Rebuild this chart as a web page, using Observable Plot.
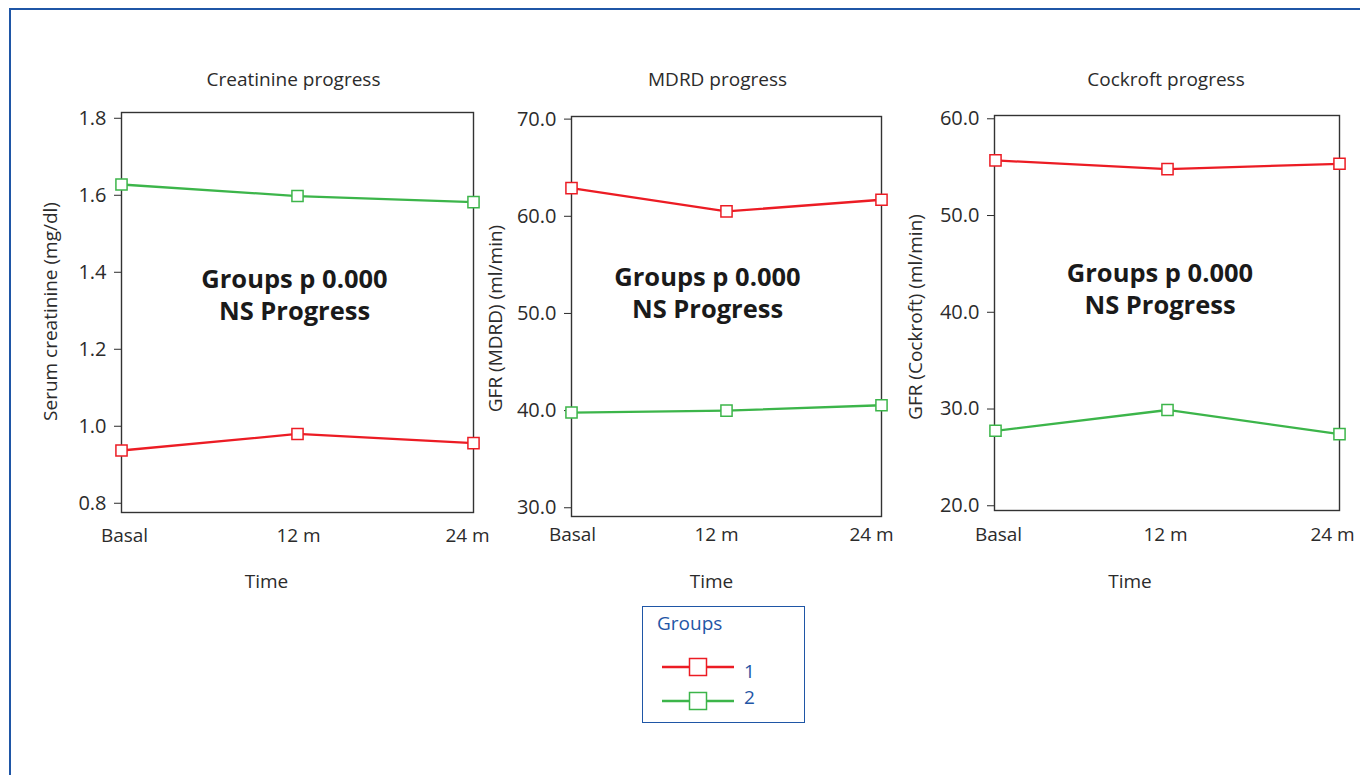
<!DOCTYPE html>
<html><head><meta charset="utf-8">
<script src="https://cdn.jsdelivr.net/npm/d3@7"></script>
<script src="https://cdn.jsdelivr.net/npm/@observablehq/plot@0.6"></script>
<style>
body{margin:0;background:#fff;font-family:"Open Sans",sans-serif;}
#wrap{position:relative;width:1360px;height:775px;overflow:hidden;background:#fff;}
#border{position:absolute;left:9px;top:8px;width:1400px;height:800px;border-top:2.5px solid #1f56a6;border-left:2.5px solid #1f56a6;}
.panel{position:absolute;top:0;}
#legend{position:absolute;left:642px;top:606px;width:163px;height:117px;border:1px solid #1f56a6;box-sizing:border-box;color:#1f56a6;font-size:19px;}
#legend .ttl{position:absolute;left:14px;top:3px;}
#legend .row{position:absolute;left:0;width:160px;height:24px;}
#legend .row svg{position:absolute;left:17px;top:0;}
#legend .row span{position:absolute;left:101px;}
</style></head><body>
<div id="wrap"><div id="border"></div></div>
<script>
// ---- data ----
const times = ["Basal", "12 m", "24 m"];
const groups = ["1", "2"];
const groupColors = ["#ec1c24", "#3cb54a"];

const creatinineG1 = [0.937, 0.980, 0.956];
const creatinineG2 = [1.628, 1.598, 1.582];
const creatinineTicks = [0.8, 1.0, 1.2, 1.4, 1.6, 1.8];

const mdrdG1 = [62.9, 60.5, 61.7];
const mdrdG2 = [39.8, 40.0, 40.55];
const mdrdTicks = [30, 40, 50, 60, 70];

const cockroftG1 = [55.7, 54.8, 55.35];
const cockroftG2 = [27.75, 29.9, 27.4];
const cockroftTicks = [20, 30, 40, 50, 60];

const titles = ["Creatinine progress", "MDRD progress", "Cockroft progress"];
const yLabels = ["Serum creatinine (mg/dl)", "GFR (MDRD) (ml/min)", "GFR (Cockroft) (ml/min)"];
const xLabel = "Time";
const note = "Groups p 0.000\nNS Progress";

// ---- layout ----
const panels = [
  {g1: creatinineG1, g2: creatinineG2, ticks: creatinineTicks, domain: [0.776, 1.815],
   left: 0, width: 500, mt: 112, mb: 88, ml: 121, mr: 27,
   title: [-4, -33], ylab: [-71, -1], xlab: [-31, 69], noteOff: [-3, -19], xt: [3, 1, -6], xtY: 23},
  {g1: mdrdG1, g2: mdrdG2, ticks: mdrdTicks, domain: [29.1, 70.27],
   left: 480, width: 430, mt: 116, mb: 84, ml: 91, mr: 29,
   title: [-9, -37], ylab: [-76, 2], xlab: [-15, 65], noteOff: [-19, -25], xt: [1, -10, -10], xtY: 18},
  {g1: cockroftG1, g2: cockroftG2, ticks: cockroftTicks, domain: [19.51, 60.34],
   left: 900, width: 460, mt: 115, mb: 90, ml: 94, mr: 21,
   title: [-1, -36], ylab: [-79, 4], xlab: [-37, 71], noteOff: [-7, -25], xt: [3, -2, -7], xtY: 24}
];

const wrap = document.getElementById("wrap");
const H = 600;
const ink = "#2b2b2b";

panels.forEach((p, k) => {
  const rows = [];
  [p.g1, p.g2].forEach((vals, gi) => {
    vals.forEach((v, ti) => rows.push({time: times[ti], group: groups[gi], value: v}));
  });
  const chart = Plot.plot({
    width: p.width, height: H,
    marginTop: p.mt, marginBottom: p.mb, marginLeft: p.ml, marginRight: p.mr,
    x: {type: "point", domain: times, padding: 0, axis: null},
    y: {domain: p.domain, axis: null},
    color: {domain: groups, range: groupColors},
    style: {fontFamily: "'Open Sans', sans-serif", fontSize: "19px", color: ink, background: "transparent", overflow: "visible"},
    marks: [
      Plot.axisY({ticks: p.ticks, tickFormat: d3.format(".1f"), tickSize: 7, tickPadding: 8, label: null, fontSize: 20, stroke: ink}),
      ...times.map((t, i) => Plot.text([t], {x: d => d, text: d => d, frameAnchor: "bottom", lineAnchor: "middle", dy: p.xtY, dx: p.xt[i], fontSize: 19, fill: ink})),
      Plot.frame({stroke: "#333", strokeWidth: 1.4}),
      Plot.lineY(rows, {x: "time", y: "value", stroke: "group", z: "group", strokeWidth: 2.3}),
      Plot.dot(rows, {x: "time", y: "value", stroke: "group", symbol: "square", r: 6.3, fill: "white", strokeWidth: 1.5}),
      Plot.text([titles[k]], {text: d => d, frameAnchor: "top", textAnchor: "middle", lineAnchor: "middle", dx: p.title[0], dy: p.title[1], fontSize: 19, fill: ink}),
      Plot.text([yLabels[k]], {text: d => d, frameAnchor: "left", textAnchor: "middle", lineAnchor: "middle", rotate: -90, dx: p.ylab[0], dy: p.ylab[1], fontSize: 19, fill: ink}),
      Plot.text([xLabel], {text: d => d, frameAnchor: "bottom", textAnchor: "middle", lineAnchor: "middle", dx: p.xlab[0], dy: p.xlab[1], fontSize: 19, fill: ink}),
      Plot.text([note], {text: d => d, frameAnchor: "middle", textAnchor: "middle", lineAnchor: "middle", lineHeight: 1.26, dx: p.noteOff[0], dy: p.noteOff[1], fontSize: 25.5, fontWeight: "bold", fill: "#1a1a1a"})
    ]
  });
  chart.classList.add("panel");
  chart.style.left = p.left + "px";
  wrap.appendChild(chart);
});

// ---- legend ----
const legend = document.createElement("div");
legend.id = "legend";
legend.innerHTML = '<div class="ttl">Groups</div>';
const rowTops = [50, 84];
const labelTops = [1, -7];
groups.forEach((g, i) => {
  const row = document.createElement("div");
  row.className = "row";
  row.style.top = rowTops[i] + "px";
  const c = groupColors[i];
  row.innerHTML = `<svg width="80" height="24"><line x1="2" x2="74" y1="10" y2="10" stroke="${c}" stroke-width="2.4"/><rect x="29.5" y="1.5" width="17" height="17" fill="white" stroke="${c}" stroke-width="1.5"/></svg><span style="top:${labelTops[i]}px">${g}</span>`;
  legend.appendChild(row);
});
wrap.appendChild(legend);
</script>
</body></html>
